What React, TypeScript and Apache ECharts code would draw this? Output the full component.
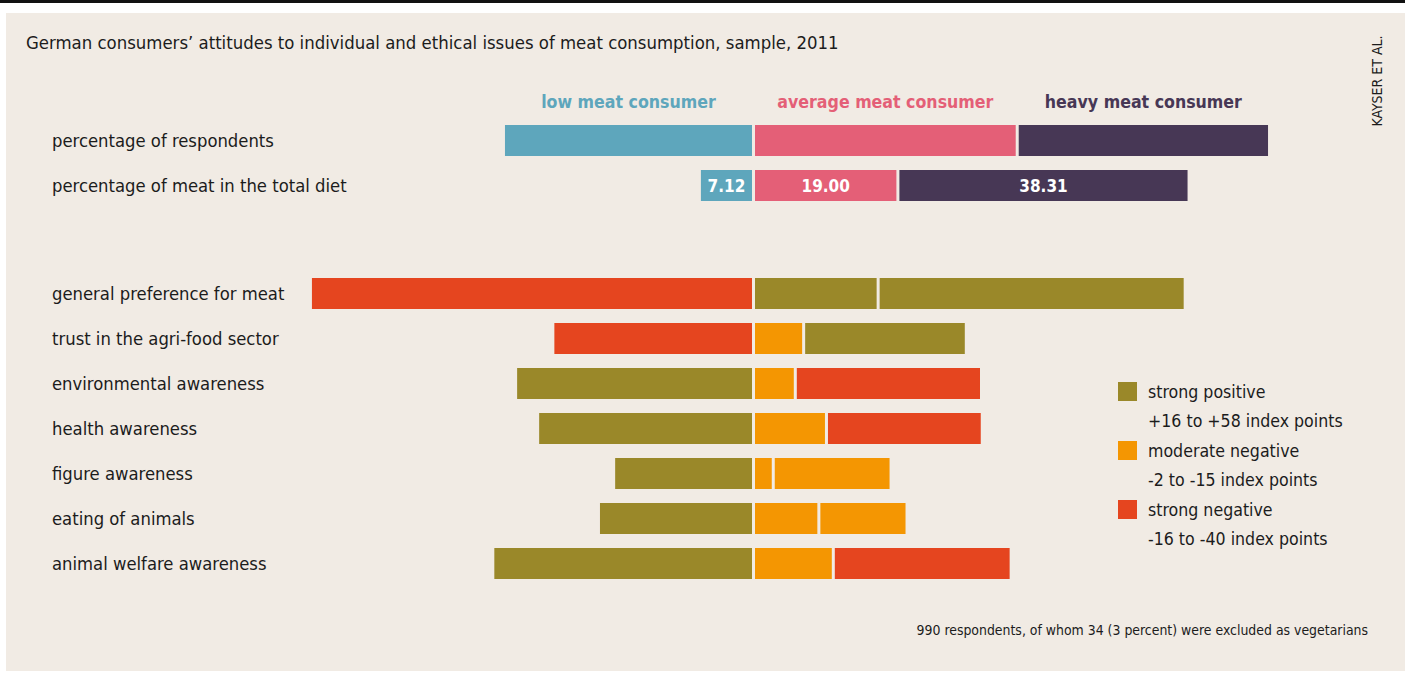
import React, { useEffect, useRef } from "react";
import * as echarts from "echarts";

// ---------- data ----------
const titleText =
  "German consumers\u2019 attitudes to individual and ethical issues of meat consumption, sample, 2011";
const sourceText = "KAYSER ET AL.";
const footnoteText = "990 respondents, of whom 34 (3 percent) were excluded as vegetarians";

const groupNames = ["low meat consumer", "average meat consumer", "heavy meat consumer"];
const groupColors = ["#5ea6bc", "#e45f77", "#473755"];

const topCategories = ["percentage of respondents", "percentage of meat in the total diet"];
const respondentsShare = [32.9, 34.7, 33.2]; // low, average, heavy
const meatShareOfDiet = [7.12, 19.0, 38.31]; // low, average, heavy

const attitudeCategories = [
  "general preference for meat",
  "trust in the agri-food sector",
  "environmental awareness",
  "health awareness",
  "figure awareness",
  "eating of animals",
  "animal welfare awareness",
];
// magnitude of index points (bar length) per consumer group
const lowValues = [58.3, 26.4, 31.3, 28.4, 18.4, 20.4, 34.3];
const averageValues = [16.4, 6.6, 5.5, 9.6, 2.6, 8.6, 10.5];
const heavyValues = [40.4, 21.4, 24.5, 20.5, 15.5, 11.6, 23.4];
// attitude class per bar: sp = strong positive, mn = moderate negative, sn = strong negative
const lowClass = ["sn", "sn", "sp", "sp", "sp", "sp", "sp"];
const averageClass = ["sp", "mn", "mn", "mn", "mn", "mn", "mn"];
const heavyClass = ["sp", "sp", "sn", "sn", "mn", "mn", "sn"];

const classKeys = ["sp", "mn", "sn"];
const classColors = ["#9a8829", "#f49602", "#e5451f"];
const classNames = ["strong positive", "moderate negative", "strong negative"];
const classRanges = ["+16 to +58 index points", "-2 to -15 index points", "-16 to -40 index points"];

// ---------- style ----------
const BG = "#f1ebe4";
const TEXT = "#1c1c1c";
const FONT = "'DejaVu Sans Condensed', 'DejaVu Sans', sans-serif";
const X_MIN = -60;
const X_MAX = 80;
const GRID_LEFT = 297.5;
const GRID_WIDTH = 1064;
const LABEL_X = 52;

const colorOf = (k: string) => classColors[classKeys.indexOf(k)];

export default function App() {
  const ref = useRef<HTMLDivElement>(null);

  useEffect(() => {
    if (!ref.current) return;
    const chart = echarts.init(ref.current, undefined, { renderer: "svg" });

    const border = { borderColor: BG, borderWidth: 1.5 };

    const topSeries = groupNames.map((name, gi) => ({
      type: "bar" as const,
      stack: "top",
      barWidth: 34,
      name,
      xAxisIndex: 0,
      yAxisIndex: 0,
      itemStyle: { ...border, color: groupColors[gi] },
      data: [
        {
          value: gi === 0 ? -respondentsShare[gi] : respondentsShare[gi],
          label: {
            show: true,
            position: "top",
            distance: 13,
            formatter: name,
            color: groupColors[gi],
            fontFamily: FONT,
            fontWeight: "bold",
            fontSize: 17.6,
          },
        },
        {
          value: gi === 0 ? -meatShareOfDiet[gi] : meatShareOfDiet[gi],
          label: {
            show: true,
            position: "inside",
            formatter: meatShareOfDiet[gi].toFixed(2),
            color: "#ffffff",
            fontFamily: FONT,
            fontWeight: "bold",
            fontSize: 17,
          },
        },
      ],
    }));

    const groups = [
      { vals: lowValues, cls: lowClass, sign: -1 },
      { vals: averageValues, cls: averageClass, sign: 1 },
      { vals: heavyValues, cls: heavyClass, sign: 1 },
    ];
    const bottomSeries = groups.map((g, gi) => ({
      type: "bar" as const,
      stack: "bottom",
      barWidth: 34,
      name: groupNames[gi] + " attitudes",
      xAxisIndex: 1,
      yAxisIndex: 1,
      itemStyle: { ...border },
      data: g.vals.map((v, i) => ({
        value: g.sign * v,
        itemStyle: { color: colorOf(g.cls[i]) },
      })),
    }));

    const legendGraphics: any[] = [];
    classNames.forEach((n, i) => {
      const y0 = 382 + i * 59;
      legendGraphics.push({
        type: "rect",
        shape: { x: 1118, y: y0, width: 19, height: 19 },
        style: { fill: classColors[i] },
      });
      legendGraphics.push({
        type: "text",
        x: 1148,
        y: y0 + 10,
        style: { text: n, fill: TEXT, font: `17.6px ${FONT}`, verticalAlign: "middle" },
      });
      legendGraphics.push({
        type: "text",
        x: 1148,
        y: y0 + 39,
        style: { text: classRanges[i], fill: TEXT, font: `17.6px ${FONT}`, verticalAlign: "middle" },
      });
    });

    const yAxisCommon = {
      type: "category" as const,
      inverse: true,
      axisLine: { show: false },
      axisTick: { show: false },
      splitLine: { show: false },
      axisLabel: {
        align: "left" as const,
        margin: GRID_LEFT - LABEL_X,
        color: TEXT,
        fontFamily: FONT,
        fontSize: 18.3,
      },
    };
    const xAxisCommon = { type: "value" as const, min: X_MIN, max: X_MAX, show: false };

    chart.setOption({
      animation: false,
      backgroundColor: "#ffffff",
      textStyle: { fontFamily: FONT },
      grid: [
        { left: GRID_LEFT, width: GRID_WIDTH, top: 118, height: 90 },
        { left: GRID_LEFT, width: GRID_WIDTH, top: 271, height: 315 },
      ],
      xAxis: [
        { ...xAxisCommon, gridIndex: 0 },
        { ...xAxisCommon, gridIndex: 1 },
      ],
      yAxis: [
        { ...yAxisCommon, gridIndex: 0, data: topCategories },
        { ...yAxisCommon, gridIndex: 1, data: attitudeCategories },
      ],
      graphic: [
        { type: "rect", z: -10, silent: true, shape: { x: 0, y: 0, width: 1405, height: 3 }, style: { fill: "#111111" } },
        { type: "rect", z: -10, silent: true, shape: { x: 6, y: 13, width: 1399, height: 658 }, style: { fill: BG } },
        {
          type: "text",
          x: 26,
          y: 42,
          style: { text: titleText, fill: TEXT, font: `18.4px ${FONT}`, verticalAlign: "middle" },
        },
        {
          type: "text",
          x: 1377,
          y: 81,
          rotation: Math.PI / 2,
          style: { text: sourceText, fill: TEXT, font: `14px ${FONT}`, align: "center", verticalAlign: "middle" },
        },
        {
          type: "text",
          x: 1368,
          y: 630,
          style: { text: footnoteText, fill: TEXT, font: `13.9px ${FONT}`, align: "right", verticalAlign: "middle" },
        },
        ...legendGraphics,
      ],
      series: [...topSeries, ...bottomSeries],
    });

    return () => chart.dispose();
  }, []);

  return (
    <div
      ref={ref}
      style={{ position: "fixed", left: 0, top: 0, width: 1405, height: 682 }}
    />
  );
}
